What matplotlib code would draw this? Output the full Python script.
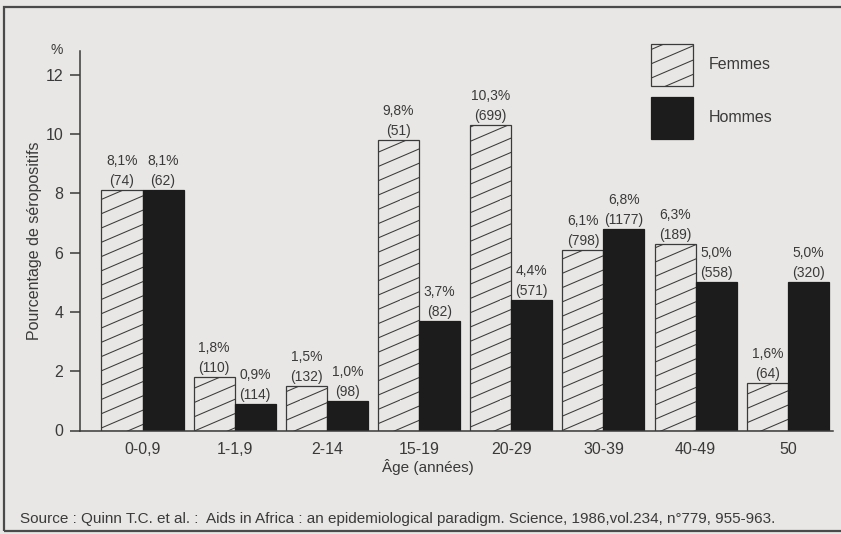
import numpy as np
import matplotlib
matplotlib.use("Agg")
import matplotlib.pyplot as plt
import matplotlib.hatch as mhatch
from matplotlib.path import Path
from matplotlib.patches import Rectangle

# ─── Data ─────────────────────────────────────────────────────────────
AGES = ["0-0,9", "1-1,9", "2-14", "15-19", "20-29", "30-39", "40-49", "50"]
FEMMES_PCT = [8.1, 1.8, 1.5, 9.8, 10.3, 6.1, 6.3, 1.6]
FEMMES_N = [74, 110, 132, 51, 699, 798, 189, 64]
HOMMES_PCT = [8.1, 0.9, 1.0, 3.7, 4.4, 6.8, 5.0, 5.0]
HOMMES_N = [62, 114, 98, 82, 571, 1177, 558, 320]
Y_TICKS = [0, 2, 4, 6, 8, 10, 12]

SOURCE = ("Source : Quinn T.C. et al. :  Aids in Africa : an epidemiological "
          "paradigm. Science, 1986,vol.234, n\u00b0779, 955-963.")

# ─── Style ────────────────────────────────────────────────────────────
BG = "#e9e7e5"
INK = "#3a3a3a"
DARK = "#1c1c1c"
W, H = 841, 534

plt.rcParams["font.family"] = ["Liberation Sans", "DejaVu Sans"]
plt.rcParams["hatch.linewidth"] = 0.75


# shallow "/" hatch (the printed original uses ~25 degree lines)
class ShallowHatch(mhatch.HatchPatternBase):
    def __init__(self, hatch, density):
        self.num_lines = 7 if "/" in hatch else 0
        self.rise = 3
        self.num_vertices = (self.num_lines + self.rise) * 2 if self.num_lines else 0

    def set_vertices_and_codes(self, vertices, codes):
        k = np.arange(-self.rise, self.num_lines)
        y0 = k / self.num_lines
        vertices[0::2, 0] = 0.0
        vertices[0::2, 1] = y0
        vertices[1::2, 0] = 1.0
        vertices[1::2, 1] = y0 + self.rise / self.num_lines
        codes[0::2] = Path.MOVETO
        codes[1::2] = Path.LINETO


mhatch._hatch_types = [ShallowHatch if t is mhatch.NorthEastHatch else t
                       for t in mhatch._hatch_types]


def fr(v):
    return f"{v:.1f}%".replace(".", ",")


fig = plt.figure(figsize=(W / 100, H / 100), dpi=100, facecolor=BG)
ax = fig.add_axes([80 / W, 1 - 430.5 / H, (833 - 80) / W, (430.5 - 51) / H])
ax.set_facecolor(BG)

x = np.arange(len(AGES))
bw = 0.445
bars_f = ax.bar(x - bw / 2, FEMMES_PCT, bw, facecolor=BG, edgecolor=INK,
                linewidth=0.9, hatch="/", label="Femmes")
bars_h = ax.bar(x + bw / 2, HOMMES_PCT, bw, facecolor=DARK, edgecolor=DARK,
                linewidth=0.9, label="Hommes")

for bars, pcts, ns in [(bars_f, FEMMES_PCT, FEMMES_N),
                       (bars_h, HOMMES_PCT, HOMMES_N)]:
    for b, p, n in zip(bars, pcts, ns):
        ax.annotate(f"{fr(p)}\n({n})",
                    (b.get_x() + b.get_width() / 2, b.get_height()),
                    xytext=(0, 1.5), textcoords="offset points",
                    ha="center", va="bottom", fontsize=10,
                    color=INK, linespacing=1.55)

ax.set_xlim(-0.678, 7.49)
ax.set_ylim(0, 12.8)
ax.set_yticks(Y_TICKS)
ax.set_xticks(x)
ax.set_xticklabels(AGES)
ax.tick_params(axis="y", length=7, width=1.1, color=INK, pad=5,
               labelsize=11.5, labelcolor=INK)
ax.tick_params(axis="x", length=0, pad=8, labelsize=11.5, labelcolor=INK)
for side in ("top", "right"):
    ax.spines[side].set_visible(False)
for side in ("left", "bottom"):
    ax.spines[side].set_color(INK)
    ax.spines[side].set_linewidth(1.1)

ax.set_ylabel("Pourcentage de s\u00e9ropositifs", fontsize=11.5, color=INK)
ax.yaxis.set_label_coords(-0.0505, 0.5)

fig.text(57 / W, 1 - 50 / H, "%", ha="center", va="center",
         fontsize=10, color=INK)
fig.text(428 / W, 1 - 467 / H, "\u00c2ge (ann\u00e9es)", ha="center",
         va="center", fontsize=11, color=INK)
fig.text(20 / W, 1 - 519 / H, SOURCE, ha="left", va="center",
         fontsize=11, color=INK)

ax.legend(handles=[bars_f, bars_h], loc="upper left",
          bbox_to_anchor=(651 / W, 1 - 44 / H), bbox_transform=fig.transFigure,
          frameon=False, borderpad=0, borderaxespad=0, handlelength=2.63,
          handleheight=3.66, labelspacing=0.69, handletextpad=1.0,
          fontsize=11.5, labelcolor=INK)

# frame around the whole figure (open on the right, like the scan)
fig.add_artist(Rectangle((4 / W, 1 - 531 / H), 1.0, (531 - 7) / H,
                         transform=fig.transFigure, fill=False,
                         edgecolor="#4a4a4a", linewidth=1.6, clip_on=False))

fig.savefig("out.png", dpi=100, facecolor=BG)
